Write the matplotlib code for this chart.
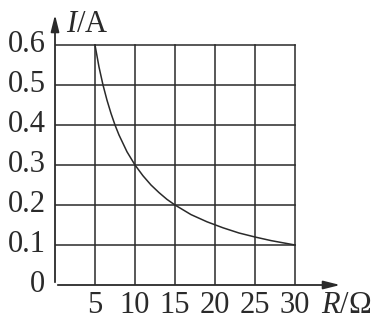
import matplotlib.pyplot as plt

# values
R_curve = [5, 5.5, 6, 6.5, 7, 7.5, 8, 9, 10, 11, 12, 13, 14, 15, 17, 19, 21, 23, 25, 27, 30]
I_curve = [0.6, 0.545, 0.5, 0.462, 0.429, 0.4, 0.375, 0.333, 0.3, 0.273, 0.25, 0.231,
           0.214, 0.2, 0.176, 0.158, 0.143, 0.130, 0.12, 0.111, 0.1]
x_ticks = [5, 10, 15, 20, 25, 30]
y_ticks = [0.1, 0.2, 0.3, 0.4, 0.5, 0.6]
y_labels = ["0.1", "0.2", "0.3", "0.4", "0.5", "0.6"]

plt.rcParams['font.family'] = ['Liberation Serif', 'DejaVu Serif']
plt.rcParams['mathtext.fontset'] = 'custom'
plt.rcParams['mathtext.rm'] = 'Liberation Serif'
plt.rcParams['mathtext.it'] = 'Liberation Serif:italic'
ink = '#2a2a2a'
fs = 22

fig = plt.figure(figsize=(3.86, 3.23), dpi=100)
ax = fig.add_axes([55 / 386, 38 / 323, 288 / 386, 273 / 323])
ax.set_xlim(0, 36)
ax.set_ylim(0, 0.6825)
ax.axis('off')

# grid
for x in x_ticks:
    ax.plot([x, x], [0, 0.6], color=ink, lw=1.1)
for y in y_ticks:
    ax.plot([0, 30], [y, y], color=ink, lw=1.1)

# axes with arrows
arrow = dict(arrowstyle='-|>,head_length=1.0,head_width=0.25', color=ink, lw=1.3)
ax.annotate('', xy=(36, 0), xytext=(0, 0), arrowprops=arrow)
ax.annotate('', xy=(0, 0.6825), xytext=(0, 0), arrowprops=arrow)

# curve
ax.plot(R_curve, I_curve, color=ink, lw=1.1)

# tick labels
for x in x_ticks:
    ax.text(x, -0.052, str(x), ha='center', va='center', fontsize=fs, color=ink)
for y, lab in zip(y_ticks, y_labels):
    ax.text(-1.2, y, lab, ha='right', va='center', fontsize=fs, color=ink)
ax.text(-1.2, 0, "0", ha='right', va='center', fontsize=fs, color=ink)

# axis labels
ax.text(1.4, 0.65, r"$I$/A", ha='left', va='center', fontsize=fs, color=ink)
ax.text(33.2, -0.052, r"$R$/Ω", ha='left', va='center', fontsize=fs, color=ink)

fig.savefig('out.png', dpi=100)
